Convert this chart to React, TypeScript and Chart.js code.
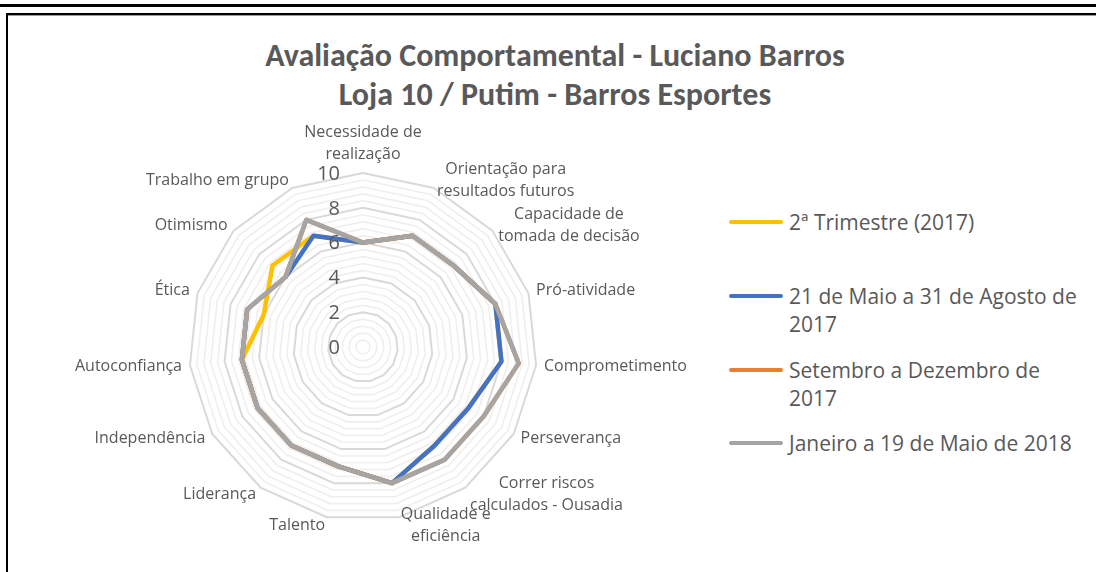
import React, { useEffect, useRef } from "react";
import { Chart, registerables } from "chart.js";

Chart.register(...registerables);

const categories: string[][] = [
  ["Necessidade de", "realização"],
  ["Orientação para", "resultados futuros"],
  ["Capacidade de", "tomada de decisão"],
  ["Pró-atividade"],
  ["Comprometimento"],
  ["Perseverança"],
  ["Correr riscos", "calculados - Ousadia"],
  ["Qualidade e", "eficiência"],
  ["Talento"],
  ["Liderança"],
  ["Independência"],
  ["Autoconfiança"],
  ["Ética"],
  ["Otimismo"],
  ["Trabalho em grupo"],
];

const seriesNames = [
  "2ª Trimestre (2017)",
  "21 de Maio a 31 de Agosto de 2017",
  "Setembro a Dezembro de 2017",
  "Janeiro a 19 de Maio de 2018",
];
const legendLines: string[][] = [
  ["2ª Trimestre (2017)"],
  ["21 de Maio a 31 de Agosto de", "2017"],
  ["Setembro a Dezembro de", "2017"],
  ["Janeiro a 19 de Maio de 2018"],
];

const trimestre2017 = [6, 7, 7, 8, 8, 7, 7, 8, 7, 7, 7, 7, 6, 7, 7];
const maioAgosto2017 = [6, 7, 7, 8, 8, 7, 7, 8, 7, 7, 7, 7, 7, 6, 7];
const setembroDezembro2017 = [6, 7, 7, 8, 9, 8, 8, 8, 7, 7, 7, 7, 7, 6, 8];
const janeiroMaio2018 = [6, 7, 7, 8, 9, 8, 8, 8, 7, 7, 7, 7, 7, 6, 8];

const tickValues = [0, 2, 4, 6, 8, 10];

const colors = ["#FFC000", "#4472C4", "#ED7D31", "#A5A5A5"];
const TEXT = "#595959";
const FONT = "'Open Sans', 'DejaVu Sans', sans-serif";

export default function App() {
  const canvasRef = useRef<HTMLCanvasElement | null>(null);

  useEffect(() => {
    if (!canvasRef.current) return;
    const labelPlugin = {
      id: "excelLabels",
      afterDraw(chart: any) {
        const scale = chart.scales.r;
        const ctx = chart.ctx;
        ctx.save();
        // tick labels
        ctx.font = `20px ${FONT}`;
        ctx.fillStyle = TEXT;
        ctx.textAlign = "right";
        ctx.textBaseline = "middle";
        tickValues.forEach((v) => {
          const d = scale.getDistanceFromCenterForValue(v);
          ctx.fillText(String(v), scale.xCenter - 23, scale.yCenter - d + 1);
        });
        // category labels, placed like Excel (vertically centred on the anchor)
        ctx.font = `16px ${FONT}`;
        ctx.textAlign = "center";
        const lh = 22;
        const n = scale._pointLabels ? scale._pointLabels.length : categories.length;
        for (let i = 0; i < n; i++) {
          const lines = categories[i];
          const pos = scale.getPointPosition(i, scale.drawingArea + 8);
          let deg = Math.round((scale.getIndexAngle(i) * 180) / Math.PI) % 360;
          if (deg < 0) deg += 360;
          const w = Math.max(...lines.map((l: string) => ctx.measureText(l).width));
          const h = lines.length * lh;
          let cx: number;
          let top: number;
          if (deg === 0) {
            cx = pos.x;
            top = pos.y - h;
          } else if (deg === 180) {
            cx = pos.x;
            top = pos.y;
          } else if (deg < 180) {
            cx = pos.x + w / 2;
            top = pos.y - h / 2;
          } else {
            cx = pos.x - w / 2;
            top = pos.y - h / 2;
          }
          lines.forEach((l: string, j: number) => {
            ctx.fillText(l, cx, top + lh / 2 + j * lh);
          });
        }
        ctx.restore();
      },
    };
    const seriesData = [trimestre2017, maioAgosto2017, setembroDezembro2017, janeiroMaio2018];
    const chart = new Chart(canvasRef.current, {
      type: "radar",
      data: {
        labels: categories,
        datasets: seriesNames.map((name, i) => ({
          label: name,
          data: seriesData[i],
          borderColor: colors[i],
          backgroundColor: colors[i],
          borderWidth: 4.5,
          pointRadius: 0,
          fill: false,
          borderJoinStyle: "round" as const,
          order: 4 - i,
        })),
      },
      options: {
        animation: false,
        responsive: false,
        maintainAspectRatio: false,
        layout: { padding: { left: 181, right: 191, top: 60, bottom: 51 } },
        plugins: {
          legend: { display: false },
          title: { display: false },
          tooltip: { enabled: false },
        },
        scales: {
          r: {
            min: 0,
            max: 10,
            beginAtZero: true,
            angleLines: { display: false },
            grid: {
              circular: false,
              color: (ctx: any) => {
                const v = ctx.tick ? ctx.tick.value : 0;
                const major = Math.abs(v / 2 - Math.round(v / 2)) < 1e-6;
                return major ? "#d9d9d9" : "#efefef";
              },
              lineWidth: (ctx: any) => {
                const v = ctx.tick ? ctx.tick.value : 0;
                const major = Math.abs(v / 2 - Math.round(v / 2)) < 1e-6;
                return major ? 2 : 1.6;
              },
            },
            ticks: { display: false, stepSize: 0.4 },
            pointLabels: { display: false },
          },
        },
      },
      plugins: [labelPlugin],
    });
    return () => chart.destroy();
  }, []);

  return (
    <div style={{ position: "fixed", left: 0, top: 0, width: 1096, height: 572, overflow: "hidden", background: "#fff" }}>
      <div style={{ position: "absolute", left: 0, top: 4, width: 1096, height: 2.5, background: "#000" }} />
      <div style={{ position: "absolute", left: 6, top: 13, width: 1100, height: 600, borderTop: "2px solid #000", borderLeft: "2px solid #000", boxSizing: "border-box" }} />
      <div style={{ position: "absolute", left: 8, top: 15, width: 1100, height: 1, background: "#9a9a9a" }} />
      <div
        style={{
          position: "absolute",
          left: 155,
          width: 800,
          top: 36,
          textAlign: "center",
          fontFamily: "Carlito, 'Liberation Sans Narrow', 'Open Sans', sans-serif",
          fontWeight: "bold",
          fontSize: 32,
          lineHeight: "39px",
          color: TEXT,
        }}
      >
        <div>Avaliação Comportamental - Luciano Barros</div>
        <div>Loja 10 / Putim - Barros Esportes</div>
      </div>
      <div style={{ position: "absolute", left: 8, top: 113, width: 720, height: 459 }}>
        <canvas ref={canvasRef} width={720} height={459} style={{ display: "block", width: 720, height: 459 }} />
      </div>
      {legendLines.map((lines, i) => {
        const cy = [221.5, 295.5, 369.5, 443][i];
        return (
          <div key={i} style={{ position: "absolute", left: 729, top: cy - 14 }}>
            <div style={{ position: "absolute", left: 0, top: 12, width: 54, height: 4, borderRadius: 2, background: colors[i] }} />
            <div style={{ position: "absolute", left: 60, top: 0, whiteSpace: "nowrap", fontFamily: FONT, fontSize: 21, lineHeight: "28px", color: TEXT }}>
              {lines.map((l, j) => (
                <div key={j}>{l}</div>
              ))}
            </div>
          </div>
        );
      })}
    </div>
  );
}
